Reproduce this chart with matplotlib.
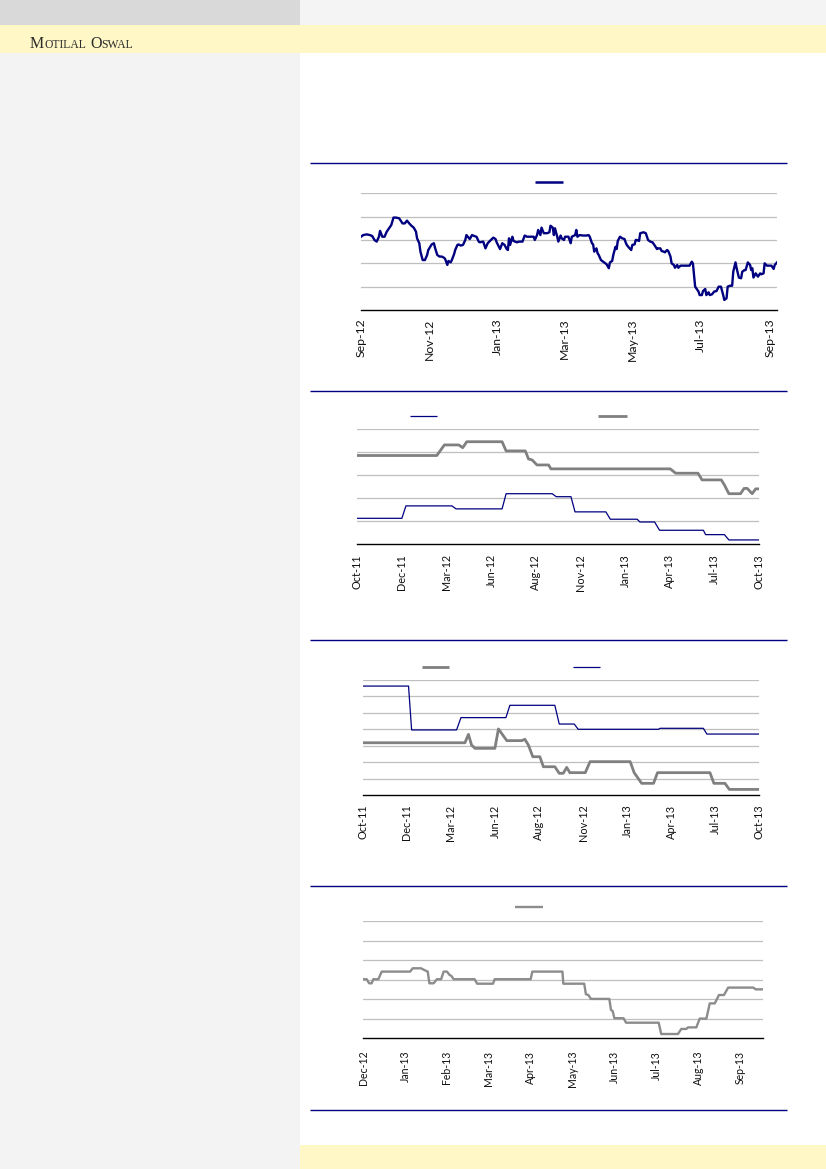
import matplotlib
matplotlib.use("Agg")
import matplotlib.pyplot as plt
import matplotlib.dates as mdates
from matplotlib.patches import Rectangle
from matplotlib.lines import Line2D
import datetime as dt
import numpy as np

# ---------------- data ----------------
# Chart 1: daily series, x = days after 1-Sep-2012
c1_days = [0, 2, 5, 8, 10, 12, 14, 16, 17, 19,
           21, 23, 25, 27, 29, 31, 34, 35, 37, 39,
           41, 43, 45, 47, 49, 50, 52, 53, 55, 57,
           59, 60, 63, 65, 66, 68, 70, 72, 74, 75,
           77, 78, 80, 81, 83, 84, 86, 87, 89, 91,
           93, 94, 97, 99, 101, 103, 105, 106, 109, 110,
           111, 113, 115, 118, 120, 121, 123, 124, 126, 128,
           130, 131, 132, 133, 135, 136, 139, 141, 144, 146,
           148, 151, 154, 155, 157, 158, 160, 161, 163, 166,
           168, 169, 171, 172, 173, 175, 176, 178, 179, 181,
           182, 185, 187, 188, 191, 192, 193, 195, 198, 201,
           203, 204, 206, 207, 208, 210, 211, 212, 214, 216,
           218, 219, 221, 222, 224, 225, 227, 228, 229, 231,
           233, 235, 236, 237, 239, 241, 242, 244, 245, 246,
           248, 249, 252, 254, 256, 258, 260, 262, 264, 265,
           267, 268, 270, 271, 273, 274, 276, 277, 279, 280,
           282, 283, 285, 288, 293, 295, 296, 297, 298, 299,
           301, 302, 304, 305, 307, 308, 310, 311, 313, 315,
           317, 319, 321, 323, 324, 326, 327, 329, 331, 332,
           334, 335, 337, 339, 340, 342, 343, 345, 347, 348,
           349, 350, 352, 354, 356, 357, 359, 360, 362, 365,
           366, 368, 369, 371]
c1_vals = [31.4, 32.1, 32.4, 32.1, 31.7, 30.0, 29.3, 31.4, 33.9, 31.4,
           31.4, 33.6, 35.0, 36.4, 39.6, 39.6, 39.3, 38.6, 37.1, 37.1,
           38.3, 37.1, 36.1, 35.3, 33.6, 30.7, 28.6, 25.0, 21.4, 21.4,
           23.6, 25.7, 28.1, 28.6, 26.7, 23.6, 22.9, 22.9, 22.4, 21.9,
           19.3, 21.0, 20.4, 21.4, 23.9, 25.7, 27.9, 28.1, 27.6, 27.9,
           30.0, 32.1, 30.4, 32.1, 31.7, 31.4, 29.3, 29.0, 29.3, 27.9,
           26.4, 28.6, 29.6, 31.0, 30.4, 29.0, 27.1, 26.1, 28.6, 27.9,
           26.1, 25.7, 30.7, 27.9, 31.4, 29.6, 29.0, 29.3, 29.3, 31.9,
           31.4, 31.4, 31.4, 30.0, 32.1, 34.3, 32.1, 35.3, 32.9, 32.9,
           33.3, 36.1, 35.3, 32.1, 35.0, 31.4, 29.3, 31.9, 30.7, 30.0,
           31.4, 31.4, 28.6, 31.4, 32.1, 34.3, 31.4, 32.1, 31.9, 31.9,
           32.1, 31.4, 28.6, 28.1, 25.0, 26.4, 24.3, 23.6, 21.4, 20.7,
           20.0, 19.6, 17.9, 20.4, 21.0, 23.6, 27.1, 26.1, 29.6, 31.4,
           30.7, 30.4, 29.0, 27.9, 26.7, 25.7, 27.9, 28.1, 30.0, 30.0,
           29.6, 32.9, 33.3, 32.9, 30.0, 29.3, 29.0, 27.6, 26.1, 26.4,
           26.4, 25.3, 25.0, 24.7, 25.7, 25.3, 22.9, 20.0, 19.3, 18.1,
           19.3, 18.1, 19.0, 19.0, 19.0, 20.7, 20.0, 15.0, 10.0, 9.3,
           7.9, 6.4, 6.4, 8.1, 9.0, 6.4, 7.6, 6.4, 6.7, 7.9,
           8.1, 10.0, 10.0, 6.4, 4.3, 5.0, 10.0, 10.4, 10.4, 16.4,
           20.4, 17.9, 13.9, 13.6, 16.4, 17.1, 17.1, 20.4, 19.3, 17.1,
           17.9, 13.9, 15.7, 14.3, 15.7, 15.3, 15.7, 20.0, 19.0, 19.0,
           19.0, 17.6, 19.3, 20.4]
c1_start = dt.date(2012, 9, 1)
c1_ticks = ["2012-09-01", "2012-11-01", "2013-01-01", "2013-03-01",
            "2013-05-01", "2013-07-01", "2013-09-01"]

# Chart 2
c2_labels = ["Oct-11", "Dec-11", "Mar-12", "Jun-12", "Aug-12", "Nov-12",
             "Jan-13", "Apr-13", "Jul-13", "Oct-13"]
c2_blue_x = [0, 1.01, 1.10, 2.13, 2.22, 3.25, 3.34, 4.37, 4.46, 4.79, 4.88,
             5.57, 5.67, 6.27, 6.33, 6.66, 6.77, 7.75, 7.80, 8.22, 8.32, 9.0]
c2_blue_y = [11.3, 11.3, 16.7, 16.7, 15.4, 15.4, 22.0, 22.0, 20.7, 20.7, 14.1,
             14.1, 10.9, 10.9, 9.7, 9.7, 6.1, 6.1, 4.2, 4.2, 1.9, 1.9]
c2_gray_x = [0, 1.79, 1.96, 2.28, 2.37, 2.46, 3.25, 3.34, 3.77, 3.84, 3.92,
             4.03, 4.29, 4.34, 7.01, 7.13, 7.63, 7.72, 8.15, 8.22, 8.32,
             8.58, 8.66, 8.73, 8.84, 8.92, 9.0]
c2_gray_y = [38.6, 38.6, 43.2, 43.2, 42.0, 44.6, 44.6, 40.6, 40.6, 37.1, 36.7,
             34.5, 34.5, 32.8, 32.8, 30.9, 30.9, 28.0, 28.0, 25.8, 22.0,
             22.0, 24.3, 24.3, 22.0, 24.1, 24.1]

# Chart 3
c3_labels = ["Oct-11", "Dec-11", "Mar-12", "Jun-12", "Aug-12", "Nov-12",
             "Jan-13", "Apr-13", "Jul-13", "Oct-13"]
c3_blue_x = [0, 1.04, 1.11, 2.13, 2.23, 3.25, 3.34, 4.36, 4.46, 4.80, 4.89,
             6.71, 6.75, 7.73, 7.81, 9.0]
c3_blue_y = [66.3, 66.3, 39.6, 39.6, 47.1, 47.1, 54.6, 54.6, 43.2, 43.2, 40.0,
             40.0, 40.6, 40.6, 37.1, 37.1]
c3_gray_x = [0, 2.32, 2.40, 2.47, 2.55, 3.00, 3.08, 3.27, 3.61, 3.68,
             3.76, 3.86, 4.02, 4.10, 4.36, 4.46, 4.55, 4.63, 4.70, 5.05,
             5.16, 6.07, 6.16, 6.33, 6.60, 6.69, 7.88, 7.97, 8.22, 8.32, 9.0]
c3_gray_y = [31.8, 31.8, 36.9, 30.4, 28.4, 28.4, 40.2, 33.1, 33.1, 33.9,
             30.4, 23.3, 23.3, 17.2, 17.2, 13.2, 13.2, 16.8, 13.6, 13.6,
             20.3, 20.3, 13.6, 7.1, 7.1, 13.6, 13.6, 7.1, 7.1, 3.4, 3.4]

# Chart 4
c4_labels = ["Dec-12", "Jan-13", "Feb-13", "Mar-13", "Apr-13", "May-13",
             "Jun-13", "Jul-13", "Aug-13", "Sep-13"]
c4_gray_x = [0, 0.08, 0.14, 0.20, 0.24, 0.36, 0.44, 1.12, 1.18, 1.38,
             1.46, 1.54, 1.58, 1.68, 1.76, 1.86, 1.92, 2.0, 2.06, 2.10,
             2.16, 2.66, 2.72, 3.10, 3.14, 4.0, 4.04, 4.76, 4.78, 5.28,
             5.32, 5.38, 5.44, 5.88, 5.92, 5.96, 6.0, 6.22, 6.28, 7.06,
             7.12, 7.52, 7.60, 7.72, 7.76, 7.96, 8.04, 8.20, 8.28, 8.40,
             8.50, 8.62, 8.72, 9.32, 9.38, 9.56]
c4_gray_y = [30.3, 30.3, 28.2, 28.2, 30.3, 30.3, 34.2, 34.2, 35.9, 35.9,
             35.0, 34.2, 28.2, 28.2, 30.3, 30.3, 34.2, 34.2, 32.5, 32.1,
             30.3, 30.3, 28.0, 28.0, 30.3, 30.3, 34.2, 34.2, 28.0, 28.0,
             22.6, 22.2, 20.2, 20.2, 14.5, 14.0, 10.3, 10.3, 8.0, 8.0,
             2.2, 2.2, 4.8, 4.8, 5.6, 5.6, 10.1, 10.1, 17.9, 17.9,
             22.2, 22.2, 26.0, 26.0, 25.1, 25.1]

# ---------------- styling ----------------
NAVY = "#000080"
GRAY = "#808080"
GRAY4 = "#8c8c8c"
GRID = "#bfbfbf"
TICK_FONT = ["Lato", "DejaVu Sans"]

W, H = 826, 1169
fig = plt.figure(figsize=(W / 100, H / 100), dpi=100)
fig.patch.set_facecolor("white")


def fx(x):
    return x / W


def fy(y):
    return 1 - y / H


def rect(x0, y0, x1, y1, color):
    fig.patches.append(Rectangle((fx(x0), fy(y1)), (x1 - x0) / W, (y1 - y0) / H,
                                 transform=fig.transFigure, facecolor=color,
                                 edgecolor="none", zorder=0))


def hline(x0, x1, y, color, lw):
    fig.lines.append(Line2D([fx(x0), fx(x1)], [fy(y), fy(y)],
                            transform=fig.transFigure, color=color, lw=lw,
                            solid_capstyle="butt"))


def add_ax(left, top, right, bottom):
    return fig.add_axes([fx(left), fy(bottom), (right - left) / W, (bottom - top) / H])


def style(ax, ymax, step, pad, size):
    ax.set_facecolor("none")
    ax.set_ylim(0, ymax)
    ax.set_yticks(np.arange(step, ymax + 0.01, step))
    ax.yaxis.grid(True, color=GRID, lw=0.9)
    ax.set_yticklabels([])
    ax.tick_params(axis="y", length=0)
    ax.tick_params(axis="x", length=0, pad=pad, labelsize=size,
                   labelrotation=90, labelcolor="#111111")
    for lab in ax.get_xticklabels():
        lab.set_family(TICK_FONT)
    for s in ["top", "right", "left"]:
        ax.spines[s].set_visible(False)
    ax.spines["bottom"].set_color("black")
    ax.spines["bottom"].set_linewidth(1.0)
    ax.spines["bottom"].set_zorder(5)
    ax.set_axisbelow(True)


# page background blocks
rect(0, 0, 300, 25, "#d9d9d9")
rect(300, 0, W, 25, "#f4f4f4")
rect(0, 25, W, 53, "#fff7c6")
rect(0, 53, 300, H, "#f3f3f3")
rect(300, 1145, W, H, "#fff7c6")

# brand text in small caps
renderer = fig.canvas.get_renderer()
xpos = 30
for piece, size, gap in [("M", 11.5, 0), ("OTILAL", 8.4, 4), ("O", 11.5, 0), ("SWAL", 8.4, 0)]:
    t = fig.text(fx(xpos), fy(47.5), piece, fontsize=size, family="Liberation Serif",
                 color="#2b2b2b", va="baseline", ha="left")
    bb = t.get_window_extent(renderer=renderer)
    xpos += bb.width + gap

# separators
for ysep in [163, 391, 640, 886, 1110]:
    hline(310, 787, ysep, NAVY, 1.0)

# ---------- chart 1 ----------
ax1 = add_ax(361, 193.3, 777, 310)
c1_dates = [c1_start + dt.timedelta(days=d) for d in c1_days]
ax1.plot(c1_dates, c1_vals, color=NAVY, lw=1.7, solid_joinstyle="round")
ax1.set_xlim(c1_dates[0], c1_dates[-1])
ax1.set_xticks([dt.date.fromisoformat(s) for s in c1_ticks])
ax1.xaxis.set_major_formatter(mdates.DateFormatter("%b-%y"))
style(ax1, 50, 10, 6, 8.8)
hline(535, 563, 182, NAVY, 1.8)

# ---------- chart 2 ----------
ax2 = add_ax(356.7, 429.3, 759.3, 544.3)
ax2.plot(c2_blue_x, c2_blue_y, color=NAVY, lw=0.9)
ax2.plot(c2_gray_x, c2_gray_y, color=GRAY, lw=2.0)
ax2.set_xlim(0, 9)
ax2.set_xticks(range(len(c2_labels)))
ax2.set_xticklabels(c2_labels)
style(ax2, 50, 10, 7, 7.8)
hline(410, 437, 416, NAVY, 0.9)
hline(598, 627, 416, GRAY, 2.0)

# ---------- chart 3 ----------
ax3 = add_ax(362.7, 680, 759.3, 795)
ax3.plot(c3_blue_x, c3_blue_y, color=NAVY, lw=0.9)
ax3.plot(c3_gray_x, c3_gray_y, color=GRAY, lw=2.0)
ax3.set_xlim(0, 9)
ax3.set_xticks(range(len(c3_labels)))
ax3.set_xticklabels(c3_labels)
style(ax3, 70, 10, 7, 7.8)
hline(422, 449, 667, GRAY, 2.0)
hline(573, 600, 667, NAVY, 0.9)

# ---------- chart 4 ----------
ax4 = add_ax(363.3, 921.3, 763.3, 1038.3)
ax4.plot(c4_gray_x, c4_gray_y, color=GRAY4, lw=1.7)
ax4.set_xlim(0, 9.56)
ax4.set_xticks(range(len(c4_labels)))
ax4.set_xticklabels(c4_labels)
style(ax4, 60, 10, 9, 7.6)
hline(515, 543, 907, GRAY4, 1.7)

fig.savefig("out.png", dpi=100)
